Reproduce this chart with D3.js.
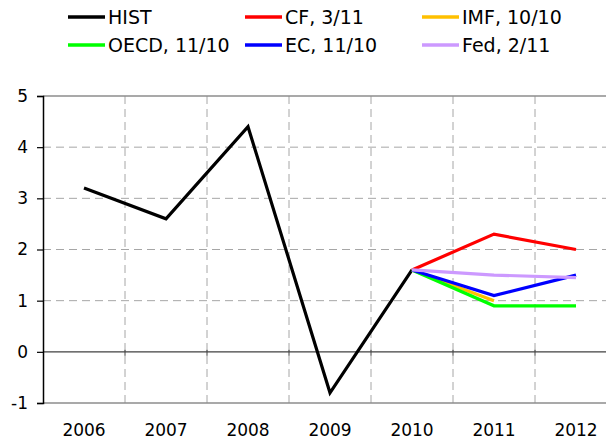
<!DOCTYPE html>
<html><head><meta charset="utf-8">
<script src="https://cdn.jsdelivr.net/npm/d3@7"></script>
<style>body{margin:0;background:#fff}svg{display:block}text{font-family:"DejaVu Sans",Verdana,sans-serif}</style>
</head><body><svg id="c" width="606" height="439"></svg>
<script>
const years = ["2006","2007","2008","2009","2010","2011","2012"];
const yTicks = [-1,0,1,2,3,4,5];
const hist = [3.2,2.6,4.4,-0.8,1.6,null,null];
const cf   = [null,null,null,null,1.6,2.3,2.0];
const imf  = [null,null,null,null,1.6,1.0,null];
const oecd = [null,null,null,null,1.6,0.9,0.9];
const ec   = [null,null,null,null,1.6,1.1,1.5];
const fed  = [null,null,null,null,1.6,1.5,1.45];
const series = [
  {name:"HIST", values:hist, color:"#000000"},
  {name:"CF, 3/11", values:cf, color:"#FF0000"},
  {name:"IMF, 10/10", values:imf, color:"#FFC000"},
  {name:"OECD, 11/10", values:oecd, color:"#00FF00"},
  {name:"EC, 11/10", values:ec, color:"#0000FF"},
  {name:"Fed, 2/11", values:fed, color:"#CC99FF"}
];

const svg = d3.select("#c");
const L = 43, T = 96, B = 403, bw = 82;
const x = d3.scaleBand().domain(years).range([L, L + bw*years.length]).padding(0);
const y = d3.scaleLinear().domain([-1,5]).range([B, T]);
const R = 606;

// horizontal dashed gridlines
svg.append("g").selectAll("line").data(yTicks.filter(v=>v>0 && v<5)).join("line")
  .attr("x1",L).attr("x2",R).attr("y1",d=>y(d)).attr("y2",d=>y(d))
  .attr("stroke","#a6a6a6").attr("stroke-width",1).attr("stroke-dasharray","8,5");
// vertical dashed gridlines at category boundaries
const bounds = years.slice(1).map(d=>x(d));
svg.append("g").selectAll("line").data(bounds).join("line")
  .attr("x1",d=>d).attr("x2",d=>d).attr("y1",T).attr("y2",B)
  .attr("stroke","#a6a6a6").attr("stroke-width",1).attr("stroke-dasharray","8,5");
// top and bottom border lines
[5,-1].forEach(v=>svg.append("line").attr("x1",L).attr("x2",R).attr("y1",y(v)).attr("y2",y(v))
  .attr("stroke","#8c8c8c").attr("stroke-width",1.5));
// zero axis with cross ticks
svg.append("line").attr("x1",L).attr("x2",R).attr("y1",y(0)).attr("y2",y(0)).attr("stroke","#404040").attr("stroke-width",1.2);
svg.append("g").selectAll("line").data(bounds).join("line")
  .attr("x1",d=>d).attr("x2",d=>d).attr("y1",y(0)-2).attr("y2",y(0)+4)
  .attr("stroke","#404040").attr("stroke-width",1);

// y axis
const ya = svg.append("g").attr("transform",`translate(${L},0)`)
  .call(d3.axisLeft(y).tickValues(yTicks).tickSize(6).tickPadding(9).tickFormat(d=>String(d)));
ya.select(".domain").attr("stroke","#000").attr("stroke-width",1.5);
ya.selectAll(".tick line").attr("stroke","#000").attr("stroke-width",1.2);
ya.selectAll("text").attr("font-size",17).attr("fill","#000");

// x labels
const xa = svg.append("g").attr("transform",`translate(0,${B})`)
  .call(d3.axisBottom(x).tickSize(0).tickPadding(21));
xa.select(".domain").remove();
xa.selectAll("text").attr("font-size",17).attr("fill","#000");

// lines
const line = d3.line().defined(d=>d.v!=null).x(d=>x(d.year)+x.bandwidth()/2).y(d=>y(d.v));
series.forEach(s=>{
  svg.append("path").datum(years.map((yr,i)=>({year:yr,v:s.values[i]})))
    .attr("d",line).attr("fill","none").attr("stroke",s.color).attr("stroke-width",3.2)
    .attr("stroke-linejoin","miter");
});

// legend
const lg = svg.append("g");
series.forEach((s,i)=>{
  const col = i%3, row = Math.floor(i/3);
  const gx = 68 + col*177, gy = 17 + row*28;
  lg.append("line").attr("x1",gx).attr("x2",gx+37).attr("y1",gy).attr("y2",gy)
    .attr("stroke",s.color).attr("stroke-width",3.5);
  lg.append("text").attr("x",gx+40).attr("y",gy).attr("dy","0.36em")
    .attr("font-size",19).attr("fill","#000").text(s.name);
});
</script></body></html>
